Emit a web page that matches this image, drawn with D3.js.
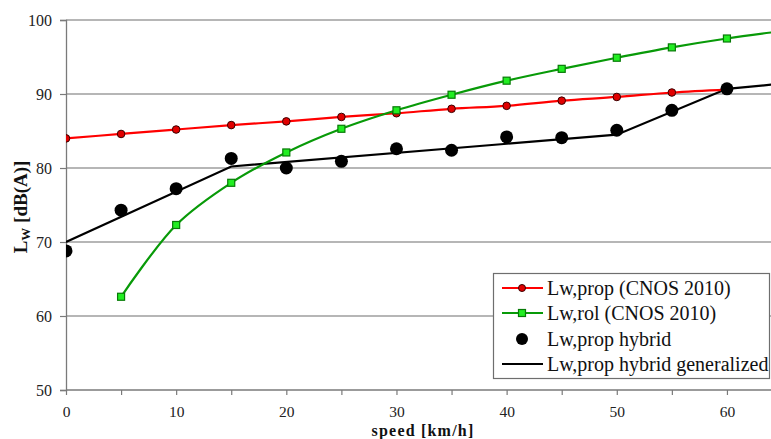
<!DOCTYPE html>
<html><head><meta charset="utf-8">
<script src="https://cdn.jsdelivr.net/npm/d3@7"></script>
<style>
html,body{margin:0;padding:0;background:#fff;overflow:hidden}
svg text{font-family:"Liberation Serif","Times New Roman",serif}
</style></head>
<body><svg id="c" width="771" height="439"></svg>
<script>
// ---- data ----
const speedsProp = [0,5,10,15,20,25,30,35,40,45,50,55,60];
const lwPropCnos = [84.0,84.6,85.2,85.8,86.3,86.9,87.4,88.0,88.4,89.1,89.6,90.2,90.6];
const speedsRol = [5,10,15,20,25,30,35,40,45,50,55,60,65];
const lwRolCnos = [62.6,72.3,78.0,82.1,85.3,87.8,89.9,91.8,93.4,94.9,96.3,97.5,98.5];
const speedsHybrid = [0,5,10,15,20,25,30,35,40,45,50,55,60];
const lwPropHybrid = [68.8,74.3,77.2,81.3,80.0,80.9,82.6,82.4,84.2,84.1,85.1,87.8,90.7];
const speedsGen = [0,15,50,60,65];
const lwPropGen = [70.0,80.2,84.5,90.7,91.4];
const yTicks = [50,60,70,80,90,100];
const xTicks = [0,10,20,30,40,50,60];
const xMinorTicks = [0,5,10,15,20,25,30,35,40,45,50,55,60];
const legendLabels = ["Lw,prop (CNOS 2010)","Lw,rol (CNOS 2010)","Lw,prop hybrid","Lw,prop hybrid generalized"];

const SERIF = "'Liberation Serif','Times New Roman',serif";
const svg = d3.select("#c");
const L = 66, R = 771, T = 20, B = 390;
const x = d3.scaleLinear().domain([0,64]).range([L,R]);
const y = d3.scaleLinear().domain([50,100]).range([B,T]);

svg.append("defs").append("clipPath").attr("id","clip")
  .append("rect").attr("x",L).attr("y",T-10).attr("width",R-L).attr("height",B-T+10);

// gridlines
svg.append("g").selectAll("line").data(yTicks.filter(d=>d>50)).join("line")
  .attr("x1",L).attr("x2",R).attr("y1",d=>y(d)).attr("y2",d=>y(d))
  .attr("stroke","#6e6e6e").attr("stroke-width",1.2);

// y axis
const yAxis = svg.append("g").attr("transform",`translate(${L},0)`)
  .call(d3.axisLeft(y).tickValues(yTicks).tickSize(6).tickPadding(8))
  .attr("font-family",SERIF).attr("font-size",16);
yAxis.select(".domain").attr("stroke","#7a7a7a").attr("stroke-width",1.3);
yAxis.selectAll(".tick line").attr("stroke","#7a7a7a").attr("stroke-width",1.2);
yAxis.selectAll("text").attr("fill","#222").attr("dy","0.36em");

// x axis
const xAxis = svg.append("g").attr("transform",`translate(0,${B})`)
  .call(d3.axisBottom(x).tickValues(xMinorTicks).tickSize(5).tickPadding(11)
    .tickFormat(d=>xTicks.includes(d)?d:""))
  .attr("font-family",SERIF).attr("font-size",15.5);
xAxis.select(".domain").attr("d",`M${L},0H${R}`).attr("stroke","#7a7a7a").attr("stroke-width",1.3);
xAxis.selectAll(".tick line").attr("stroke","#7a7a7a").attr("stroke-width",1.2);
xAxis.selectAll("text").attr("fill","#222");

// axis titles
const yl = svg.append("text").attr("transform",`translate(27,${(T+B)/2+2}) rotate(-90)`)
  .attr("text-anchor","middle").attr("font-weight","bold").attr("font-size",19).attr("fill","#111");
yl.append("tspan").text("L");
yl.append("tspan").attr("font-size",13).attr("dy",3).text("W");
yl.append("tspan").attr("dy",-3).text(" [dB(A)]");

svg.append("text").attr("x",423).attr("y",435.5).attr("text-anchor","middle")
  .attr("font-weight","bold").attr("font-size",16).attr("letter-spacing",1.2).attr("fill","#111")
  .text("speed [km/h]");

const plot = svg.append("g").attr("clip-path","url(#clip)");

const propData = speedsProp.map((s,i)=>({s,v:lwPropCnos[i]}));
const rolData = speedsRol.map((s,i)=>({s,v:lwRolCnos[i]}));
const hybData = speedsHybrid.map((s,i)=>({s,v:lwPropHybrid[i]}));
const genData = speedsGen.map((s,i)=>({s,v:lwPropGen[i]}));

const lineLin = d3.line().x(d=>x(d.s)).y(d=>y(d.v));
const lineSmooth = d3.line().x(d=>x(d.s)).y(d=>y(d.v)).curve(d3.curveCatmullRom.alpha(0.5));

plot.append("path").datum(genData).attr("d",lineLin)
  .attr("fill","none").attr("stroke","#000").attr("stroke-width",2.2);
plot.append("path").datum(propData).attr("d",lineSmooth)
  .attr("fill","none").attr("stroke","#ff0000").attr("stroke-width",2.2);
plot.append("path").datum(rolData).attr("d",lineSmooth)
  .attr("fill","none").attr("stroke","#089a08").attr("stroke-width",2.2);

plot.selectAll(".rm").data(propData).join("circle").attr("class","rm")
  .attr("cx",d=>x(d.s)).attr("cy",d=>y(d.v)).attr("r",3.8)
  .attr("fill","#e00000").attr("stroke","#3a0000").attr("stroke-width",1);
plot.selectAll(".gm").data(rolData).join("rect").attr("class","gm")
  .attr("x",d=>x(d.s)-3.5).attr("y",d=>y(d.v)-3.5).attr("width",7).attr("height",7)
  .attr("fill","#22ee22").attr("stroke","#077a07").attr("stroke-width",1.2);
plot.selectAll(".bm").data(hybData).join("circle").attr("class","bm")
  .attr("cx",d=>x(d.s)).attr("cy",d=>y(d.v)).attr("r",6.5).attr("fill","#000");

// legend
const lg = svg.append("g");
lg.append("rect").attr("x",493.5).attr("y",273.5).attr("width",276).attr("height",105)
  .attr("fill","#fff").attr("stroke","#6e6e6e").attr("stroke-width",1.2);
const rowY = [288,313,339,364];
legendLabels.forEach((lab,i)=>{
  const cy = rowY[i];
  if(i!==2){
    lg.append("line").attr("x1",502).attr("x2",543).attr("y1",cy).attr("y2",cy)
      .attr("stroke",["#ff0000","#089a08",null,"#000"][i]).attr("stroke-width",2.2);
  }
  if(i===0) lg.append("circle").attr("cx",522).attr("cy",cy).attr("r",3.5)
      .attr("fill","#e00000").attr("stroke","#3a0000").attr("stroke-width",1);
  if(i===1) lg.append("rect").attr("x",518.5).attr("y",cy-3.5).attr("width",7).attr("height",7)
      .attr("fill","#22ee22").attr("stroke","#077a07").attr("stroke-width",1.2);
  if(i===2) lg.append("circle").attr("cx",522).attr("cy",cy).attr("r",6).attr("fill","#000");
  lg.append("text").attr("x",547).attr("y",cy+6.5).attr("font-size",20).attr("fill","#111").text(lab);
});
</script></body></html>
